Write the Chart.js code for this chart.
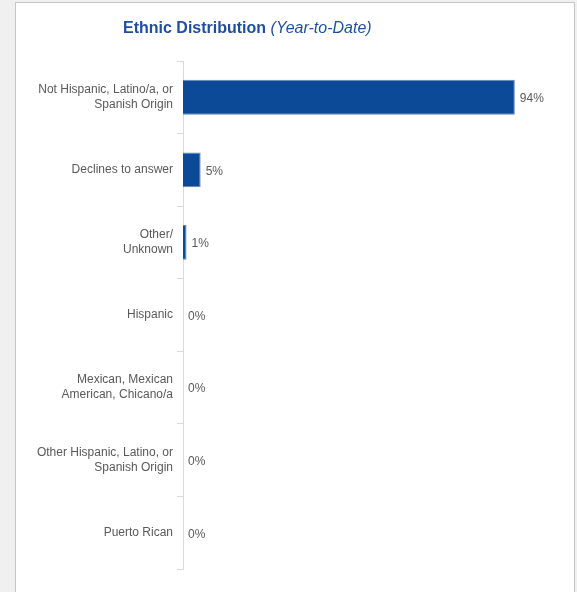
<!DOCTYPE html>
<html>
<head>
<meta charset="utf-8">
<script src="https://cdn.jsdelivr.net/npm/chart.js"></script>
<style>
  html, body { margin: 0; padding: 0; background: #f0f0f0; }
  #wrap { position: relative; width: 577px; height: 592px; overflow: hidden; }
  #card { position: absolute; left: 15px; top: 2px; width: 558px; height: 600px;
          background: #fff; border: 1px solid #c6c6c6; }
  #ethnicChart { position: absolute; left: 0; top: 0; }
</style>
</head>
<body>
<div id="wrap">
  <div id="card"></div>
  <canvas id="ethnicChart" width="577" height="592"></canvas>
</div>
<script>
const categories = [
  ['Not Hispanic, Latino/a, or', 'Spanish Origin'],
  'Declines to answer',
  ['Other/', 'Unknown'],
  'Hispanic',
  ['Mexican, Mexican', 'American, Chicano/a'],
  ['Other Hispanic, Latino, or', 'Spanish Origin'],
  'Puerto Rican'
];
const percentages = [94, 5, 1, 0, 0, 0, 0];

const bar_color = '#0c4a97';
const bar_edge_color = '#6584b8';
const label_color = '#595959';
const axis_color = '#d9d9d9';
const font_family = "'Liberation Sans', Arial, Helvetica, sans-serif";

// heading with a bold part and an italic part
const titlePlugin = {
  id: 'twoPartTitle',
  afterDraw(chart) {
    const c = chart.ctx;
    c.save();
    c.fillStyle = '#1f4f9c';
    c.textBaseline = 'alphabetic';
    c.textAlign = 'left';
    c.font = 'bold 16px ' + font_family;
    const main = 'Ethnic Distribution';
    c.fillText(main, 123, 33);
    const w = c.measureText(main + ' ').width;
    c.font = 'italic 16px ' + font_family;
    c.fillText('(Year-to-Date)', 123 + w, 33);
    c.restore();
  }
};

// percent text to the right of every bar
const valueLabels = {
  id: 'valueLabels',
  afterDatasetsDraw(chart) {
    const c = chart.ctx;
    const meta = chart.getDatasetMeta(0);
    c.save();
    c.font = '12px ' + font_family;
    c.fillStyle = label_color;
    c.textAlign = 'left';
    c.textBaseline = 'middle';
    meta.data.forEach((bar, i) => {
      c.fillText(percentages[i] + '%', bar.x + 5, bar.y + 1.5);
    });
    c.restore();
  }
};

new Chart(document.getElementById('ethnicChart'), {
  type: 'bar',
  data: {
    labels: categories,
    datasets: [{
      data: percentages,
      backgroundColor: bar_color,
      borderColor: bar_edge_color,
      borderWidth: 1,
      borderSkipped: 'left',
      barPercentage: 0.48,
      categoryPercentage: 1
    }]
  },
  options: {
    indexAxis: 'y',
    responsive: false,
    animation: false,
    layout: { padding: { top: 61, bottom: 23, left: 0, right: 41 } },
    plugins: {
      legend: { display: false },
      tooltip: { enabled: false },
      title: { display: false }
    },
    scales: {
      x: { display: false, min: 0, max: 100 },
      y: {
        afterFit: (scale) => { scale.width = 183; },
        grid: {
          drawOnChartArea: false,
          drawTicks: true,
          tickLength: 6,
          color: axis_color,
          offset: true
        },
        border: { color: axis_color, width: 1 },
        ticks: {
          color: label_color,
          padding: 4,
          font: { size: 12, family: font_family, lineHeight: 1.25 }
        }
      }
    }
  },
  plugins: [titlePlugin, valueLabels]
});
</script>
</body>
</html>
